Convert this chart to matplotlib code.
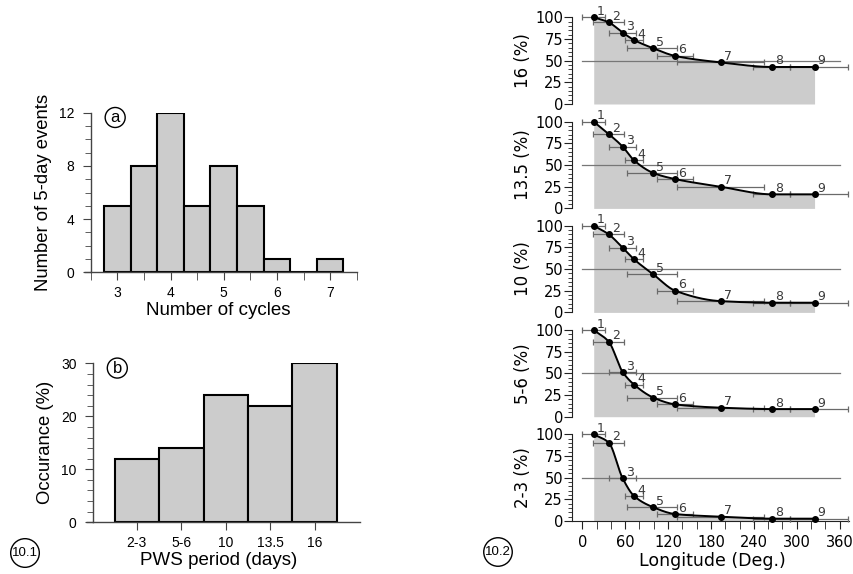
import numpy as np
import matplotlib
matplotlib.use("Agg")
import matplotlib.pyplot as plt
from matplotlib.ticker import MultipleLocator

# ---------------- data ----------------
cycles = [3, 3.5, 4, 4.5, 5, 5.5, 6, 6.5, 7]
cycle_counts = [5, 8, 12, 5, 8, 5, 1, 0, 1]

periods = ["2-3", "5-6", "10", "13.5", "16"]
occurrence = [12, 14, 24, 22, 30]

point_ids = [1, 2, 3, 4, 5, 6, 7, 8, 9]
longitude = [16, 37, 56.5, 72.5, 99.5, 130, 193.5, 266, 325]
lon_lo = [0, 15.5, 37, 59.5, 63, 104, 133, 239, 291]
lon_hi = [32, 58.5, 75, 85.5, 133, 155.5, 254, 291, 372]

pct_16 = [100, 94.2, 82.3, 73.8, 64.2, 55.4, 48.0, 42.7, 42.7]
pct_13_5 = [100, 85.8, 71.2, 55.4, 40.8, 33.8, 25.0, 16.2, 16.2]
pct_10 = [100, 90.0, 74.6, 61.2, 43.8, 25.0, 13.0, 11.2, 11.2]
pct_5_6 = [100, 86.5, 51.5, 37.0, 22.0, 14.2, 10.4, 8.8, 8.8]
pct_2_3 = [100, 90.4, 49.2, 28.8, 15.8, 8.0, 5.0, 2.7, 2.7]

panel_labels = ["16 (%)", "13.5 (%)", "10 (%)", "5-6 (%)", "2-3 (%)"]
panel_values = [pct_16, pct_13_5, pct_10, pct_5_6, pct_2_3]
lon_ticks = [0, 60, 120, 180, 240, 300, 360]


def pchip(x, y, xs):
    x = np.asarray(x, float)
    y = np.asarray(y, float)
    h = np.diff(x)
    d = np.diff(y) / h
    n = len(x)
    m = np.zeros(n)
    for k in range(1, n - 1):
        if d[k - 1] * d[k] <= 0:
            m[k] = 0.0
        else:
            w1 = 2 * h[k] + h[k - 1]
            w2 = h[k] + 2 * h[k - 1]
            m[k] = (w1 + w2) / (w1 / d[k - 1] + w2 / d[k])
    m[0] = d[0]
    m[-1] = d[-1]
    out = np.empty_like(xs)
    idx = np.clip(np.searchsorted(x, xs) - 1, 0, n - 2)
    for i, xv in enumerate(xs):
        k = idx[i]
        t = (xv - x[k]) / h[k]
        h00 = 2 * t**3 - 3 * t**2 + 1
        h10 = t**3 - 2 * t**2 + t
        h01 = -2 * t**3 + 3 * t**2
        h11 = t**3 - t**2
        out[i] = h00 * y[k] + h10 * h[k] * m[k] + h01 * y[k + 1] + h11 * h[k] * m[k + 1]
    return out


W, H = 854, 574
fig = plt.figure(figsize=(W / 100, H / 100), dpi=100)

LEFT_FONT = ["Liberation Sans", "DejaVu Sans"]
RIGHT_FONT = ["DejaVu Sans"]
AXC = "#444444"


def frac(left, top, right, bottom):
    return [left / W, 1 - bottom / H, (right - left) / W, (bottom - top) / H]


def circled(ax_or_fig, x, y, s, size, transform, pad=0.15):
    ax_or_fig.text(x, y, s, transform=transform, ha="center", va="center",
                   fontsize=size, family=LEFT_FONT,
                   bbox=dict(boxstyle="circle,pad=%g" % pad, fc="white", ec="black", lw=1.0))


def style_left(ax):
    for sp in ["top", "right"]:
        ax.spines[sp].set_visible(False)
    for sp in ["left", "bottom"]:
        ax.spines[sp].set_color(AXC)
        ax.spines[sp].set_linewidth(1.0)
    ax.tick_params(which="both", direction="out", color=AXC, labelsize=10)
    ax.tick_params(axis="x", which="both", length=6, pad=4)
    ax.tick_params(axis="y", which="major", length=6, pad=6)
    ax.tick_params(axis="y", which="minor", length=4)
    for lab in ax.get_xticklabels() + ax.get_yticklabels():
        lab.set_family(LEFT_FONT)
    # x axis line extends slightly to the left of the y axis
    ax.plot([-0.026, 0], [0, 0], transform=ax.transAxes, color=AXC, lw=1.0,
            clip_on=False, solid_capstyle="butt")


# ---------- panel a ----------
axa = fig.add_axes(frac(90.7, 112.7, 356.7, 272.3))
axa.bar(cycles, cycle_counts, width=0.5, color="#cccccc", edgecolor="black", linewidth=1.5)
axa.set_xlim(2.5, 7.5)
axa.set_ylim(0, 12)
axa.set_xticks([3, 4, 5, 6, 7])
axa.xaxis.set_minor_locator(MultipleLocator(0.5))
axa.set_yticks([0, 4, 8, 12])
axa.yaxis.set_minor_locator(MultipleLocator(1))
style_left(axa)
axa.set_xlabel("Number of cycles", fontsize=13.5, family=LEFT_FONT)
axa.xaxis.set_label_coords(0.481, -0.184)
axa.set_ylabel("Number of 5-day events", fontsize=13.3, family=LEFT_FONT)
axa.yaxis.set_label_coords(-0.145, 0.5)
circled(axa, 0.092, 0.97, "a", 12, axa.transAxes)

# ---------- panel b ----------
axb = fig.add_axes(frac(93.3, 363.3, 360.0, 522.3))
xb = np.arange(len(periods))
axb.bar(xb, occurrence, width=1.0, color="#cccccc", edgecolor="black", linewidth=1.5)
axb.set_xlim(-0.98, 5.02)
axb.set_ylim(0, 30)
axb.set_xticks(xb)
axb.set_xticklabels(periods)
axb.set_yticks([0, 10, 20, 30])
axb.yaxis.set_minor_locator(MultipleLocator(2))
style_left(axb)
axb.set_xlabel("PWS period (days)", fontsize=13.5, family=LEFT_FONT)
axb.xaxis.set_label_coords(0.471, -0.185)
axb.set_ylabel("Occurance (%)", fontsize=13.3, family=LEFT_FONT)
axb.yaxis.set_label_coords(-0.147, 0.5)
circled(axb, 0.09, 0.97, "b", 12, axb.transAxes)

circled(fig, 25 / W, 1 - 553 / H, "10.1", 9.5, fig.transFigure, pad=0.1)
circled(fig, 498 / W, 1 - 552 / H, "10.2", 9.5, fig.transFigure, pad=0.1)

# ---------- right panels ----------
tops = [17.3, 121.7, 225.7, 330.0, 434.3]
xs = np.linspace(longitude[0], longitude[-1], 600)
lon = np.array(longitude)
xerr = np.array([lon - np.array(lon_lo), np.array(lon_hi) - lon])

for i, (lab, vals) in enumerate(zip(panel_labels, panel_values)):
    top = tops[i]
    ax = fig.add_axes(frac(572.0, top, 848.6, top + 86.7))
    ax.set_xlim(-14.4, 372.6)
    ax.set_ylim(0, 100)
    ys = pchip(longitude, vals, xs)
    ax.fill_between(xs, 0, ys, color="#cccccc", lw=0, zorder=1)
    ax.plot([0, 360], [50, 50], color="#777777", lw=0.9, zorder=2)
    ax.errorbar(longitude, vals, xerr=xerr, fmt="none", ecolor="#6a6a6a",
                elinewidth=0.9, capsize=2.0, capthick=0.9, zorder=3, clip_on=False)
    ax.plot(xs, ys, color="black", lw=1.4, zorder=4, clip_on=False)
    ax.plot(longitude, vals, "o", color="black", ms=4, zorder=5, clip_on=False)
    for pid, xv, yv in zip(point_ids, longitude, vals):
        ax.annotate(str(pid), (xv, yv), xytext=(7, 6), textcoords="offset pixels",
                    ha="center", va="center", fontsize=9, color="#3a3a3a",
                    family=RIGHT_FONT, annotation_clip=False, zorder=6)
    for sp in ["top", "right"]:
        ax.spines[sp].set_visible(False)
    ax.spines["left"].set_color("#222222")
    ax.set_yticks([0, 25, 50, 75, 100])
    ax.yaxis.set_minor_locator(MultipleLocator(5))
    ax.tick_params(axis="y", which="major", direction="out", length=5.5, pad=1,
                   labelsize=10.5, color="#222222")
    ax.tick_params(axis="y", which="minor", direction="out", length=3.2, color="#222222")
    for t in ax.get_yticklabels():
        t.set_family(RIGHT_FONT)
    ax.set_ylabel(lab, fontsize=12, family=RIGHT_FONT)
    ax.yaxis.set_label_coords(-0.145, 0.5)
    if i < 4:
        ax.spines["bottom"].set_visible(False)
        ax.set_xticks([])
    else:
        ax.spines["bottom"].set_color("#222222")
        ax.set_xticks(lon_ticks)
        ax.xaxis.set_minor_locator(MultipleLocator(20))
        ax.tick_params(axis="x", which="both", direction="out", length=6, pad=4,
                       labelsize=10.5, color="#222222")
        for t in ax.get_xticklabels():
            t.set_family(RIGHT_FONT)
        ax.set_xlabel("Longitude (Deg.)", fontsize=12.5, family=RIGHT_FONT)
        ax.xaxis.set_label_coords(0.507, -0.36)

fig.savefig("out.png", dpi=100)
